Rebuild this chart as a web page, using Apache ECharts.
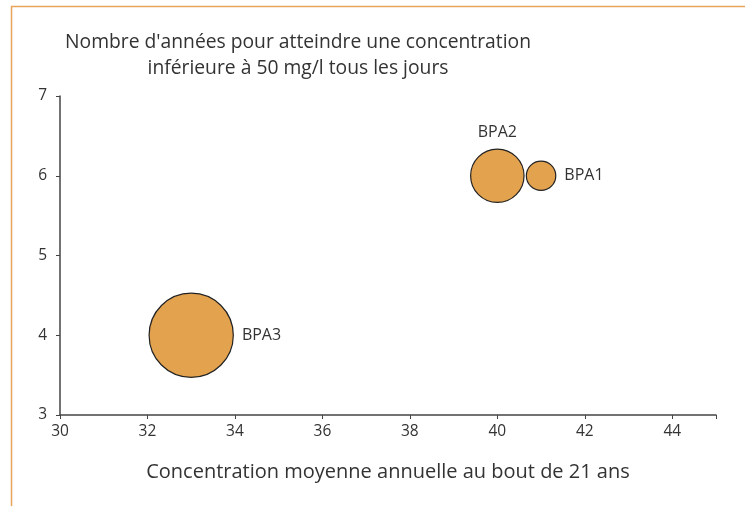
<!DOCTYPE html>
<html>
<head>
<meta charset="utf-8">
<script src="https://cdn.jsdelivr.net/npm/echarts@6/dist/echarts.min.js"></script>
<style>
  html, body { margin: 0; padding: 0; background: #fff; }
  #main { width: 745px; height: 506px; }
</style>
</head>
<body>
<div id="main"></div>
<script>
// données
let names = ['BPA1', 'BPA2', 'BPA3'];
let concentration = [41, 40, 33];   // axe X
let annees = [6, 6, 4];             // axe Y
let taille = [10, 33, 82];          // taille des bulles
let labelPos = ['right', 'top', 'right'];
let xTicks = [30, 45, 2];           // min, max, interval
let yTicks = [3, 7, 1];

let fontFam = '"Open Sans", "Noto Sans", sans-serif';
let textColor = '#333';
let axisColor = '#444';

let seriesData = [];
for (let i = 0; i < names.length; i++) {
    seriesData.push({
        name: names[i],
        value: [concentration[i], annees[i], taille[i]],
        label: {position: labelPos[i]}
    });
}

let myChart = echarts.init(document.getElementById('main'), null, {renderer: 'canvas'});
let option = {
    backgroundColor: '#fff',
    animation: false,
    textStyle: {fontFamily: fontFam},
    title: {
        text: "Nombre d'années pour atteindre une concentration\ninférieure à 50 mg/l tous les jours",
        left: 293,
        top: 25,
        textAlign: 'center',
        textStyle: {
            fontFamily: fontFam,
            fontSize: 19.3,
            fontWeight: 'normal',
            color: textColor,
            lineHeight: 26,
            align: 'center'
        }
    },
    grid: {
        left: 60,
        right: 29,
        top: 96,
        bottom: 91
    },
    xAxis: {
        type: 'value',
        min: xTicks[0],
        max: xTicks[1],
        interval: xTicks[2],
        name: 'Concentration moyenne annuelle au bout de 21 ans',
        nameLocation: 'middle',
        nameGap: 47,
        nameTextStyle: {fontFamily: fontFam, fontSize: 20, color: textColor},
        splitLine: {show: false},
        axisLine: {lineStyle: {color: axisColor, width: 1.5}},
        axisTick: {show: true, length: 4, lineStyle: {color: axisColor}},
        axisLabel: {
            fontFamily: fontFam, fontSize: 15.5, color: textColor, margin: 9,
            formatter: function (v) { return v >= 45 ? '' : v; }
        }
    },
    yAxis: {
        type: 'value',
        min: yTicks[0],
        max: yTicks[1],
        interval: yTicks[2],
        splitLine: {show: false},
        axisLine: {show: true, lineStyle: {color: axisColor, width: 1.5}},
        axisTick: {show: true, length: 4, lineStyle: {color: axisColor}},
        axisLabel: {fontFamily: fontFam, fontSize: 15.5, color: textColor, margin: 13}
    },
    graphic: [
        {
            type: 'polyline',
            silent: true,
            shape: {points: [[11.5, 506], [11.5, 6.5], [745, 6.5]]},
            style: {stroke: '#E8A55A', lineWidth: 1.5, fill: null}
        }
    ],
    series: [
        {
            type: 'scatter',
            data: seriesData,
            symbolSize: function (val) {
                return 9.3 * Math.sqrt(val[2]);
            },
            itemStyle: {
                color: '#E3A24E',
                borderColor: '#222',
                borderWidth: 1.2,
                opacity: 1
            },
            label: {
                show: true,
                formatter: '{b}',
                fontFamily: fontFam,
                fontSize: 16,
                color: textColor,
                distance: 8
            }
        }
    ]
};
myChart.setOption(option);
</script>
</body>
</html>
